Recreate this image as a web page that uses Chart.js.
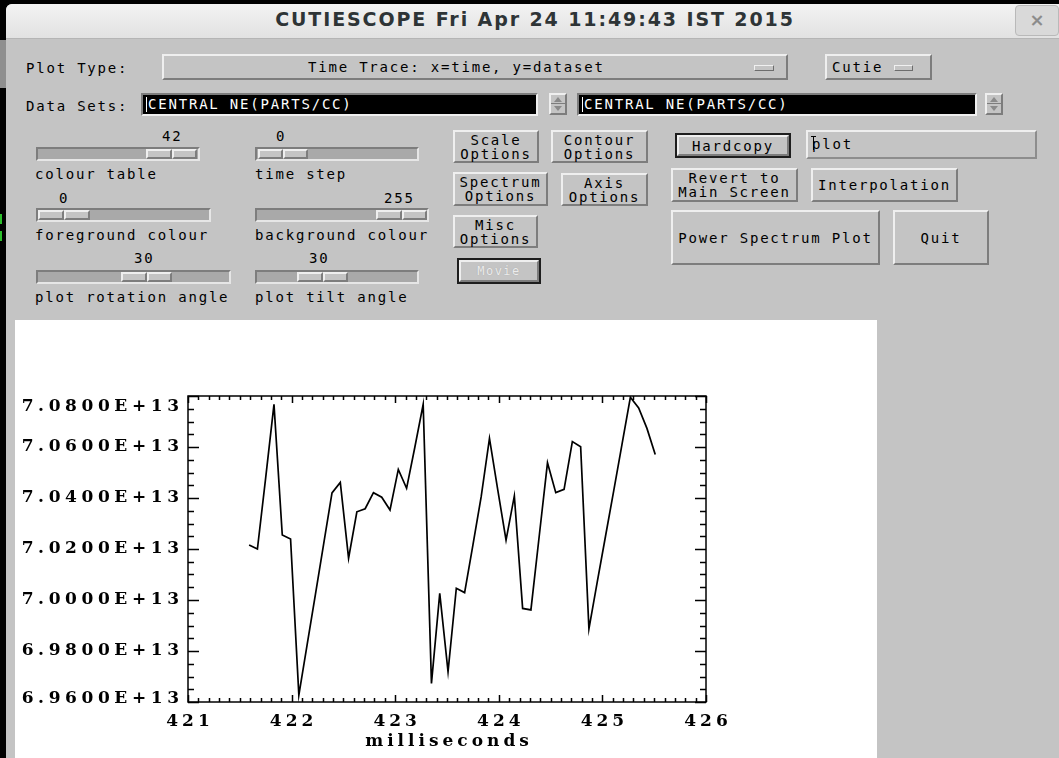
<!DOCTYPE html>
<html>
<head>
<meta charset="utf-8">
<title>CUTIESCOPE</title>
<script src="https://cdn.jsdelivr.net/npm/chart.js@4.4.1/dist/chart.umd.min.js"></script>
<style>
  html, body { margin: 0; padding: 0; width: 1059px; height: 758px; overflow: hidden; background: #000; }
  #win { position: absolute; left: 6px; top: 4px; width: 1053px; height: 754px; background: #c4c4c4; border-top-left-radius: 6px; }
  .abs { position: absolute; box-sizing: border-box; }
  #titlebar { position: absolute; left: 6px; top: 4px; width: 1053px; height: 34px; background: linear-gradient(#f3f3f3, #e2e2e2);
              border-bottom: 1px solid #b5b5b5; border-top-left-radius: 6px; }
  #title { position: absolute; left: 6px; top: 9px; width: 1058px; text-align: center; font: bold 19px "DejaVu Sans", sans-serif;
           letter-spacing: 1.9px; color: #2e3436; line-height: 20px; }
  #closebtn { position: absolute; left: 1015px; top: 5px; width: 44px; height: 31px; background: #d9d9d9; border: 1px solid #b9b9b9;
              border-radius: 4px; box-sizing: border-box; color: #8c8c8c; font: bold 18px "DejaVu Sans", sans-serif; text-align: center; line-height: 28px; }
  .t { position: absolute; font: 14px "DejaVu Sans Mono", monospace; letter-spacing: 1.8px; color: #000; white-space: pre; line-height: 16px; }
  .raised { position: absolute; box-sizing: border-box; background: #c4c4c4; border: 2px solid; border-color: #efefef #7d7d7d #7d7d7d #efefef; }
  .sunken { position: absolute; box-sizing: border-box; border: 2px solid; border-color: #7d7d7d #efefef #efefef #7d7d7d; }
  .btn { display: flex; align-items: center; justify-content: center; text-align: center; font: 14px "DejaVu Sans Mono", monospace;
         letter-spacing: 1.8px; line-height: 14px; color: #000; white-space: pre; }
  .trough { position: absolute; box-sizing: border-box; background: #a9a9a9; border: 2px solid; border-color: #7d7d7d #e6e6e6 #e6e6e6 #7d7d7d; height: 14px; }
  .thumb { position: absolute; top: 0; height: 10px; display: flex; }
  .thumb div { flex: 1; box-sizing: border-box; background: #c4c4c4; border: 2px solid; border-color: #efefef #7d7d7d #7d7d7d #efefef; }
  .field { position: absolute; box-sizing: border-box; background: #000; border: 2px solid; border-color: #7d7d7d #efefef #efefef #7d7d7d;
           color: #fff; font: 14px "DejaVu Sans Mono", monospace; letter-spacing: 1.8px; line-height: 19px; padding-left: 5px; white-space: pre; }
  .spin { position: absolute; box-sizing: border-box; width: 18px; height: 22px; background: #c4c4c4; border: 2px solid;
          border-color: #efefef #7d7d7d #7d7d7d #efefef; }
  .spin .up, .spin .dn { position: absolute; left: 3px; width: 0; height: 0; border-left: 4px solid transparent; border-right: 4px solid transparent; }
  .spin .up { top: 2px; border-bottom: 5px solid #8a8a8a; }
  .spin .dn { top: 11px; border-top: 5px solid #8a8a8a; }
  .spin .mid { position: absolute; left: 0; top: 8px; width: 14px; height: 1px; background: #7d7d7d; }
  .ind { position: absolute; box-sizing: border-box; height: 6px; background: #c4c4c4; border: 1px solid; border-color: #f0f0f0 #6d6d6d #6d6d6d #f0f0f0; }
  .outline { position: absolute; box-sizing: border-box; border: 2px solid #1e1e1e; }
  #trace { position: absolute; left: 15px; top: 320px; width: 862px; height: 438px; background: #fff; }
</style>
</head>
<body>
<div id="win"></div>
<div class="abs" style="left:0;top:40px;width:6px;height:48px;background:#8f8f8f;"></div>
<div class="abs" style="left:0;top:214px;width:3px;height:10px;border-left:2px solid #2bbf2b;"></div>
<div class="abs" style="left:0;top:231px;width:3px;height:10px;border-left:2px solid #2bbf2b;"></div>

<div id="titlebar"></div>
<div id="title">CUTIESCOPE Fri Apr 24 11:49:43 IST 2015</div>
<div id="closebtn">×</div>

<!-- plot type row -->
<div class="t" style="left:26px;top:60px;">Plot Type:</div>
<div class="raised" style="left:162px;top:54px;width:626px;height:26px;"></div>
<div class="t" style="left:308px;top:59px;">Time Trace: x=time, y=dataset</div>
<div class="ind" style="left:754px;top:65px;width:20px;"></div>
<div class="raised" style="left:825px;top:54px;width:107px;height:26px;"></div>
<div class="t" style="left:832px;top:59px;">Cutie</div>
<div class="ind" style="left:894px;top:65px;width:19px;"></div>

<!-- data sets row -->
<div class="t" style="left:26px;top:98px;">Data Sets:</div>
<div class="field" style="left:141px;top:93px;width:397px;height:23px;">CENTRAL NE(PARTS/CC)</div>
<div class="abs" style="left:146px;top:97px;width:1px;height:15px;background:#fff;"></div>
<div class="spin" style="left:549px;top:93px;"><div class="up"></div><div class="mid"></div><div class="dn"></div></div>
<div class="field" style="left:577px;top:93px;width:400px;height:23px;">CENTRAL NE(PARTS/CC)</div>
<div class="abs" style="left:582px;top:97px;width:1px;height:15px;background:#fff;"></div>
<div class="spin" style="left:985px;top:93px;"><div class="up"></div><div class="mid"></div><div class="dn"></div></div>

<!-- sliders -->
<div class="t" style="left:162px;top:128px;">42</div>
<div class="trough" style="left:36px;top:147px;width:164px;"><div class="thumb" style="left:108px;width:51px;"><div></div><div></div></div></div>
<div class="t" style="left:35px;top:166px;">colour table</div>

<div class="t" style="left:276px;top:128px;">0</div>
<div class="trough" style="left:255px;top:147px;width:164px;"><div class="thumb" style="left:1px;width:50px;"><div></div><div></div></div></div>
<div class="t" style="left:255px;top:166px;">time step</div>

<div class="t" style="left:59px;top:190px;">0</div>
<div class="trough" style="left:36px;top:208px;width:175px;"><div class="thumb" style="left:0px;width:52px;"><div></div><div></div></div></div>
<div class="t" style="left:35px;top:227px;">foreground colour</div>

<div class="t" style="left:384px;top:190px;">255</div>
<div class="trough" style="left:255px;top:208px;width:174px;"><div class="thumb" style="left:119px;width:51px;"><div></div><div></div></div></div>
<div class="t" style="left:255px;top:227px;">background colour</div>

<div class="t" style="left:134px;top:250px;">30</div>
<div class="trough" style="left:36px;top:270px;width:195px;"><div class="thumb" style="left:83px;width:51px;"><div></div><div></div></div></div>
<div class="t" style="left:35px;top:289px;">plot rotation angle</div>

<div class="t" style="left:309px;top:250px;">30</div>
<div class="trough" style="left:255px;top:270px;width:164px;"><div class="thumb" style="left:40px;width:51px;"><div></div><div></div></div></div>
<div class="t" style="left:255px;top:289px;">plot tilt angle</div>

<!-- option buttons -->
<div class="raised btn" style="left:453px;top:130px;width:86px;height:33px;">Scale<br>Options</div>
<div class="raised btn" style="left:551px;top:130px;width:97px;height:33px;">Contour<br>Options</div>
<div class="raised btn" style="left:453px;top:172px;width:95px;height:34px;">Spectrum<br>Options</div>
<div class="raised btn" style="left:561px;top:173px;width:87px;height:33px;">Axis<br>Options</div>
<div class="raised btn" style="left:453px;top:215px;width:85px;height:33px;">Misc<br>Options</div>
<div class="outline" style="left:457px;top:258px;width:84px;height:26px;"></div>
<div class="raised btn" style="left:459px;top:260px;width:80px;height:22px;color:#ececec;text-shadow:0 0 1px #a0a0a0;font-size:12px;letter-spacing:1.5px;">Movie</div>

<div class="outline" style="left:675px;top:133px;width:116px;height:25px;"></div>
<div class="raised btn" style="left:677px;top:135px;width:112px;height:21px;">Hardcopy</div>
<div class="sunken" style="left:806px;top:130px;width:231px;height:29px;border-color:#efefef #8d8d8d #8d8d8d #efefef;"></div>
<div class="t" style="left:812px;top:136px;">plot</div>
<div class="abs" style="left:813px;top:136px;width:1px;height:14px;background:#000;"></div>
<div class="abs" style="left:811px;top:136px;width:5px;height:1px;background:#000;"></div>

<div class="raised btn" style="left:671px;top:168px;width:127px;height:34px;">Revert to<br>Main Screen</div>
<div class="raised btn" style="left:811px;top:168px;width:147px;height:34px;">Interpolation</div>
<div class="raised btn" style="left:671px;top:210px;width:209px;height:55px;">Power Spectrum Plot</div>
<div class="raised btn" style="left:893px;top:210px;width:96px;height:55px;">Quit</div>

<canvas id="trace" width="862" height="438"></canvas>

<script>
// Central electron density time trace (parts/cc) against time (ms)
const sampleTimes = [
  421.59, 421.67, 421.75, 421.83, 421.91, 421.99, 422.07, 422.15, 422.23, 422.31,
  422.39, 422.47, 422.55, 422.63, 422.71, 422.79, 422.87, 422.95, 423.03, 423.11,
  423.19, 423.27, 423.35, 423.43, 423.51, 423.59, 423.67, 423.75, 423.83, 423.91,
  423.99, 424.07, 424.15, 424.23, 424.31, 424.39, 424.47, 424.55, 424.63, 424.71,
  424.79, 424.87, 424.95, 425.03, 425.11, 425.19, 425.27, 425.35, 425.43, 425.51
];
const densityValues = [
  7.0216e13, 7.0200e13, 7.0480e13, 7.0767e13, 7.0255e13, 7.0239e13, 6.9627e13, 6.9825e13, 7.0022e13, 7.0221e13,
  7.0420e13, 7.0461e13, 7.0164e13, 7.0346e13, 7.0358e13, 7.0421e13, 7.0403e13, 7.0353e13, 7.0512e13, 7.0438e13,
  7.0600e13, 7.0767e13, 6.9673e13, 7.0026e13, 6.9719e13, 7.0046e13, 7.0029e13, 7.0215e13, 7.0405e13, 7.0634e13,
  7.0432e13, 7.0235e13, 7.0408e13, 6.9967e13, 6.9961e13, 7.0250e13, 7.0538e13, 7.0421e13, 7.0434e13, 7.0621e13,
  7.0601e13, 6.9887e13, 7.0070e13, 7.0250e13, 7.0430e13, 7.0612e13, 7.0795e13, 7.0753e13, 7.0673e13, 7.0571e13
];

const xTickValues = [421, 422, 423, 424, 425, 426];
const xTickLabels = ['421', '422', '423', '424', '425', '426'];
const yTickValues = [6.96e13, 6.98e13, 7.00e13, 7.02e13, 7.04e13, 7.06e13, 7.08e13];
const yTickLabels = ['6.9600E+13', '6.9800E+13', '7.0000E+13', '7.0200E+13', '7.0400E+13', '7.0600E+13', '7.0800E+13'];
const xAxisTitle = 'milliseconds';

const xMinorStep = 0.1;
const yMinorStep = 0.005e13;

// draw text with extra spacing between glyphs, like a stroked vector font
function spacedText(ctx, str, x, y, align, gap) {
  const chars = [...str];
  const widths = chars.map(c => ctx.measureText(c).width);
  const total = widths.reduce((a, b) => a + b, 0) + gap * (chars.length - 1);
  let cx = align === 'right' ? x - total : align === 'center' ? x - total / 2 : x;
  ctx.textAlign = 'left';
  ctx.textBaseline = 'middle';
  chars.forEach((c, i) => { ctx.fillText(c, cx, y); cx += widths[i] + gap; });
}

// box frame, inward ticks and labels in the classic plotting style
const plotFrame = {
  id: 'plotFrame',
  afterDatasetsDraw(chart) {
    const { ctx, chartArea: a, scales: { x, y } } = chart;
    ctx.save();
    ctx.strokeStyle = '#000';
    ctx.fillStyle = '#000';
    ctx.lineWidth = 1.5;
    ctx.strokeRect(a.left, a.top, a.right - a.left, a.bottom - a.top);

    ctx.beginPath();
    const xFirst = xTickValues[0], xLast = xTickValues[xTickValues.length - 1];
    const nx = Math.round((xLast - xFirst) / xMinorStep);
    for (let k = 0; k <= nx; k++) {
      const px = Math.round(x.getPixelForValue(xFirst + k * xMinorStep)) + 0.5;
      const len = k % 10 === 0 ? 7 : 4;
      ctx.moveTo(px, a.bottom); ctx.lineTo(px, a.bottom - len);
      ctx.moveTo(px, a.top); ctx.lineTo(px, a.top + len);
    }
    const yFirst = yTickValues[0], yLast = yTickValues[yTickValues.length - 1];
    const ny = Math.round((yLast - yFirst) / yMinorStep);
    for (let k = 0; k <= ny; k++) {
      const py = Math.round(y.getPixelForValue(yFirst + k * yMinorStep)) + 0.5;
      const len = k % 4 === 0 ? 11 : 6;
      ctx.moveTo(a.left, py); ctx.lineTo(a.left + len, py);
      ctx.moveTo(a.right, py); ctx.lineTo(a.right - len, py);
    }
    ctx.stroke();

    ctx.font = 'bold 17px "DejaVu Serif", serif';
    yTickValues.forEach((v, i) => {
      let py = y.getPixelForValue(v);
      py = Math.min(Math.max(py, a.top + 11), a.bottom - 3);
      spacedText(ctx, yTickLabels[i], a.left - 9, py, 'right', 4.6);
    });
    xTickValues.forEach((v, i) => {
      spacedText(ctx, xTickLabels[i], x.getPixelForValue(v), a.bottom + 20, 'center', 4);
    });
    spacedText(ctx, xAxisTitle, (a.left + a.right) / 2, a.bottom + 40, 'center', 4);
    ctx.restore();
  }
};

new Chart(document.getElementById('trace'), {
  type: 'line',
  data: {
    datasets: [{
      data: sampleTimes.map((t, i) => ({ x: t, y: densityValues[i] })),
      borderColor: '#000',
      borderWidth: 1.7,
      pointRadius: 0,
      tension: 0,
      fill: false
    }]
  },
  options: {
    responsive: false,
    animation: false,
    devicePixelRatio: 1,
    layout: { padding: { left: 173, right: 171, top: 76, bottom: 56 } },
    plugins: { legend: { display: false }, tooltip: { enabled: false } },
    scales: {
      x: { type: 'linear', min: 421, max: 426, display: false },
      y: { type: 'linear', min: 6.96e13, max: 7.08e13, display: false }
    }
  },
  plugins: [plotFrame]
});
</script>
</body>
</html>
